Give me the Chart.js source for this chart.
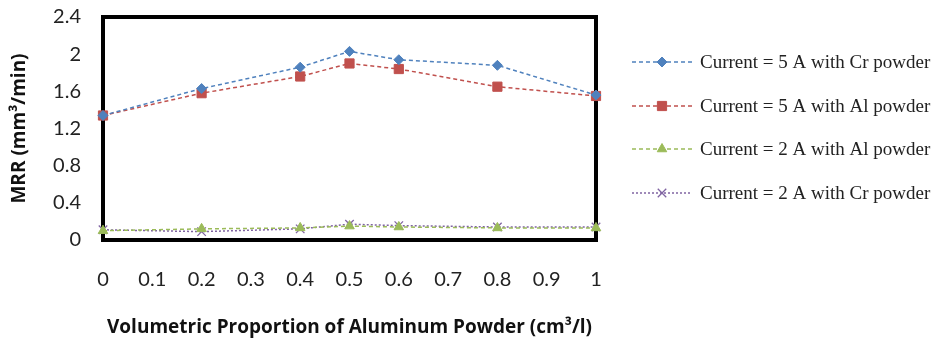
<!DOCTYPE html>
<html>
<head>
<meta charset="utf-8">
<script src="https://cdn.jsdelivr.net/npm/chart.js@4"></script>
<style>
  html, body { margin: 0; padding: 0; background: #fff; }
  #wrap { width: 936px; height: 341px; position: relative; }
</style>
</head>
<body>
<div id="wrap"><canvas id="mrrChart"></canvas></div>
<script>
// volumetric proportion (cm3/l)
const proportions = [0, 0.2, 0.4, 0.5, 0.6, 0.8, 1];
const cr5 = [1.34, 1.63, 1.86, 2.03, 1.94, 1.88, 1.56];
const al5 = [1.34, 1.58, 1.76, 1.90, 1.84, 1.65, 1.55];
const al2 = [0.10, 0.12, 0.13, 0.15, 0.14, 0.13, 0.13];
const cr2 = [0.11, 0.09, 0.12, 0.17, 0.155, 0.14, 0.14];
const seriesNames = [
  "Current = 5 A with Cr powder",
  "Current = 5 A with Al powder",
  "Current = 2 A with Al powder",
  "Current = 2 A with Cr powder",
];

const toPoints = (vals) => vals.map((v, i) => ({ x: proportions[i], y: v }));

function series(label, vals, color, shape, radius, dash) {
  return {
    label: label,
    data: toPoints(vals),
    borderColor: color,
    backgroundColor: color,
    borderWidth: 1.5,
    borderDash: dash,
    pointStyle: shape,
    pointRadius: radius,
    pointBorderWidth: shape === "crossRot" ? 1.3 : 1,
    pointBorderColor: color,
    showLine: true,
    clip: false,
  };
}

// thick black frame around the plot
const framePlugin = {
  id: "frame",
  beforeDatasetsDraw(chart) {
    const a = chart.chartArea;
    const ctx = chart.ctx;
    ctx.save();
    ctx.strokeStyle = "#000";
    ctx.lineWidth = 4;
    ctx.strokeRect(a.left, a.top, a.right - a.left, a.bottom - a.top);
    ctx.restore();
  },
};

// legend on the right, line + marker + serif text
const sideLegend = {
  id: "sideLegend",
  afterDraw(chart) {
    const ctx = chart.ctx;
    const rows = [62, 106, 149, 193];
    chart.data.datasets.forEach((ds, i) => {
      const y = rows[i];
      ctx.save();
      ctx.strokeStyle = ds.borderColor;
      ctx.lineWidth = 1.5;
      ctx.setLineDash(ds.borderDash);
      ctx.beginPath();
      ctx.moveTo(632, y);
      ctx.lineTo(692, y);
      ctx.stroke();
      ctx.setLineDash([]);
      ctx.fillStyle = ds.backgroundColor;
      ctx.lineWidth = ds.pointBorderWidth;
      Chart.helpers.drawPoint(ctx, {
        pointStyle: ds.pointStyle,
        radius: ds.pointRadius,
        borderWidth: ds.pointBorderWidth,
      }, 662, y);
      ctx.fillStyle = "#222";
      ctx.font = "19px 'Liberation Serif'";
      ctx.textBaseline = "middle";
      ctx.fillText(ds.label, 700, y + 1, 235);
      ctx.restore();
    });
  },
};

const tickFont = { family: "Lato", size: 20 };
const titleFont = { family: "Open Sans", size: 19, weight: "bold" };
const trimLabel = (v) => String(+Number(v).toFixed(1));

new Chart(document.getElementById("mrrChart"), {
  type: "scatter",
  data: {
    datasets: [
      series(seriesNames[0], cr5, "#4F81BD", "rectRot", 5, [4, 3]),
      series(seriesNames[1], al5, "#C0504D", "rect", 6.5, [4, 3]),
      series(seriesNames[2], al2, "#9BBB59", "triangle", 5.5, [4, 3]),
      series(seriesNames[3], cr2, "#8064A2", "crossRot", 6, [2, 2]),
    ],
  },
  options: {
    responsive: true,
    maintainAspectRatio: false,
    animation: false,
    layout: { padding: { top: 0, right: 340, left: 0, bottom: 0 } },
    plugins: {
      legend: { display: false },
      tooltip: { enabled: false },
    },
    scales: {
      x: {
        type: "linear",
        min: 0,
        max: 1,
        ticks: { stepSize: 0.1, color: "#222", font: tickFont, padding: 28, callback: trimLabel },
        grid: { display: false, drawTicks: false },
        border: { display: false },
        title: {
          display: true,
          text: "Volumetric Proportion of Aluminum Powder (cm³/l)",
          color: "#111",
          font: titleFont,
          padding: { top: 0, bottom: 2 },
        },
        afterFit(scale) { scale.height = 101; },
      },
      y: {
        min: 0,
        max: 2.4,
        ticks: { stepSize: 0.4, color: "#222", font: tickFont, padding: 22, callback: trimLabel },
        grid: { display: false, drawTicks: false },
        border: { display: false },
        title: {
          display: true,
          text: "MRR (mm³/min)",
          color: "#111",
          font: titleFont,
          padding: { top: 8, bottom: 0 },
        },
        afterFit(scale) {
          scale.width = 103;
          scale.paddingTop = 17;
          scale.paddingBottom = 0;
        },
      },
    },
  },
  plugins: [framePlugin, sideLegend],
});
</script>
</body>
</html>
